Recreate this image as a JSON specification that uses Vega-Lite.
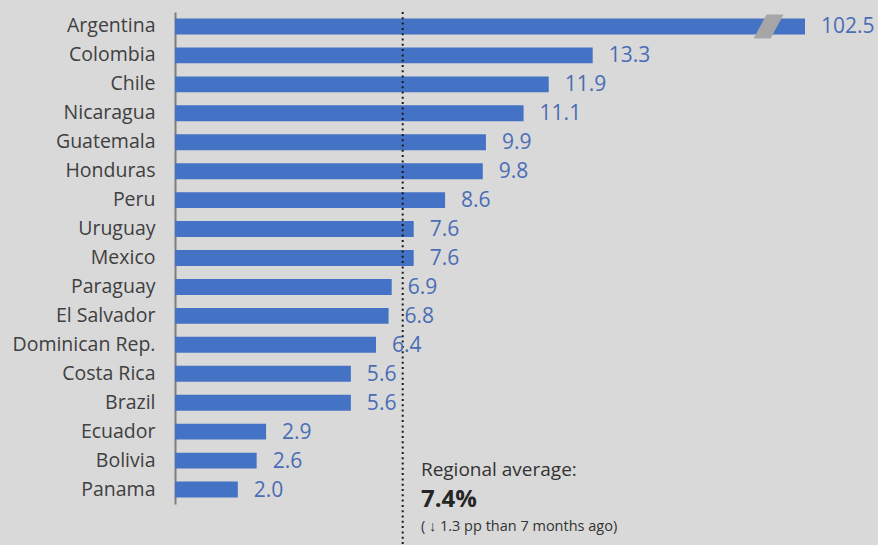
{
  "$schema": "https://vega.github.io/schema/vega-lite/v6.json",
  "width": 703,
  "height": 533,
  "autosize": "none",
  "padding": {"left": 175, "top": 12, "right": 0, "bottom": 0},
  "background": "#d9d9d9",
  "config": {"view": {"stroke": null}, "font": "Open Sans"},
  "data": {"values": [
    {"country": "Argentina", "value": 102.5},
    {"country": "Colombia", "value": 13.3},
    {"country": "Chile", "value": 11.9},
    {"country": "Nicaragua", "value": 11.1},
    {"country": "Guatemala", "value": 9.9},
    {"country": "Honduras", "value": 9.8},
    {"country": "Peru", "value": 8.6},
    {"country": "Uruguay", "value": 7.6},
    {"country": "Mexico", "value": 7.6},
    {"country": "Paraguay", "value": 6.9},
    {"country": "El Salvador", "value": 6.8},
    {"country": "Dominican Rep.", "value": 6.4},
    {"country": "Costa Rica", "value": 5.6},
    {"country": "Brazil", "value": 5.6},
    {"country": "Ecuador", "value": 2.9},
    {"country": "Bolivia", "value": 2.6},
    {"country": "Panama", "value": 2.0}
  ]},
  "encoding": {
    "y": {
      "field": "country", "type": "nominal", "sort": null,
      "scale": {"range": [0, 492], "paddingInner": 0.45, "paddingOuter": 0.225},
      "axis": {
        "title": null, "ticks": false, "domainColor": "#7f7f7f", "domainWidth": 2,
        "labelFontSize": 19.5, "labelColor": "#404040", "labelPadding": 20
      }
    }
  },
  "layer": [
    {
      "mark": {"type": "bar", "color": "#4472c4"},
      "encoding": {
        "x": {"field": "value", "type": "quantitative",
          "scale": {"domain": [0, 20.06], "range": [0, 630], "clamp": true, "nice": false, "zero": true},
          "axis": null}
      }
    },
    {
      "data": {"values": [{"label": "break"}]},
      "mark": {"type": "point", "filled": true, "opacity": 1, "color": "#a6a6a6", "size": 576,
        "shape": "M -0.17 -1 L 1.25 -1 L 0.17 1 L -1.25 1 Z"},
      "encoding": {
        "x": {"datum": 18.9, "type": "quantitative"},
        "y": {"datum": "Argentina"}
      }
    },
    {
      "data": {"values": [{"average": 7.25}]},
      "mark": {"type": "rule", "color": "#1a1a1a", "strokeWidth": 2, "strokeDash": [2, 3.3]},
      "encoding": {"x": {"field": "average", "type": "quantitative"}, "y": null}
    },
    {
      "mark": {"type": "text", "align": "left", "baseline": "middle", "dx": 16, "dy": 1, "fontSize": 21, "color": "#4a6db5"},
      "encoding": {
        "x": {"field": "value", "type": "quantitative"},
        "text": {"field": "value", "type": "quantitative", "format": ".1f"}
      }
    },
    {
      "data": {"values": [{"t": "Regional average:"}]},
      "mark": {"type": "text", "align": "left", "baseline": "middle", "dy": 9, "fontSize": 19, "color": "#333333"},
      "encoding": {"x": {"datum": 7.83, "type": "quantitative"}, "y": {"datum": "Bolivia"}, "text": {"field": "t"}}
    },
    {
      "data": {"values": [{"t": "7.4%"}]},
      "mark": {"type": "text", "align": "left", "baseline": "middle", "dy": 10, "fontSize": 24, "fontWeight": "bold", "color": "#262626"},
      "encoding": {"x": {"datum": 7.83, "type": "quantitative"}, "y": {"datum": "Panama"}, "text": {"field": "t"}}
    },
    {
      "data": {"values": [{"t": "( ↓ 1.3 pp than 7 months ago)"}]},
      "mark": {"type": "text", "align": "left", "baseline": "middle", "dy": 37, "fontSize": 14.5, "color": "#333333"},
      "encoding": {"x": {"datum": 7.83, "type": "quantitative"}, "y": {"datum": "Panama"}, "text": {"field": "t"}}
    }
  ]
}
